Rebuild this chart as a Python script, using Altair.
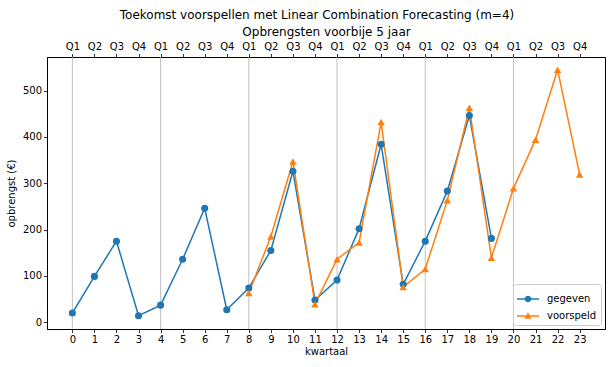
import altair as alt
import pandas as pd

# ---- data ----
kwartaal_gegeven = list(range(20))
gegeven = [20, 99, 175, 14, 37, 136, 246, 27, 74, 155, 326, 48, 91, 202, 384, 82, 175, 283, 446, 181]
kwartaal_voorspeld = list(range(8, 24))
voorspeld = [63, 185, 347, 39, 136, 172, 432, 76, 115, 263, 463, 139, 289, 394, 545, 319]
kwartaal_labels = ["Q1", "Q2", "Q3", "Q4"]
x_ticks = list(range(24))
grid_posities = [0, 4, 8, 12, 16, 20]
y_ticks = [0, 100, 200, 300, 400, 500]
reeksen = ["gegeven", "voorspeld"]
kleuren = ["#1f77b4", "#ff7f0e"]

df = pd.concat([
    pd.DataFrame({"kwartaal": kwartaal_gegeven, "opbrengst": gegeven, "reeks": "gegeven"}),
    pd.DataFrame({"kwartaal": kwartaal_voorspeld, "opbrengst": voorspeld, "reeks": "voorspeld"}),
], ignore_index=True)
grid_df = pd.DataFrame({"kwartaal": grid_posities})

FONT = "DejaVu Sans"
x_scale = alt.Scale(domain=[-1.15, 24.15], nice=False, zero=False)
y_scale = alt.Scale(domain=[-14.5, 572.4], nice=False, zero=False)

label_expr = "[" + ",".join(f"'{q}'" for q in kwartaal_labels) + "][datum.value % 4]"

top_axis = alt.Axis(orient="top", values=x_ticks, labelExpr=label_expr, grid=False,
                    title="Opbrengsten voorbije 5 jaar", titleFontSize=12, titleFontWeight="normal",
                    titlePadding=3, labelFlush=False)
bottom_axis = alt.Axis(orient="bottom", values=x_ticks, grid=False, title="kwartaal",
                       titleFontWeight="normal", titleFontSize=10, titlePadding=2, labelFlush=False)
y_axis = alt.Axis(values=y_ticks, grid=False, title="opbrengst (€)", titleFontWeight="normal",
                  titleFontSize=10, titlePadding=6)

y_enc = alt.Y("opbrengst:Q", scale=y_scale, axis=y_axis)

grid = alt.Chart(grid_df).mark_rule(color="#b0b0b0", strokeWidth=0.8).encode(
    x=alt.X("kwartaal:Q", scale=x_scale, axis=top_axis)
)

base = alt.Chart(df)
x_main = alt.X("kwartaal:Q", scale=x_scale, axis=bottom_axis)
x_enc = alt.X("kwartaal:Q", scale=x_scale, axis=None)

line_g = base.transform_filter(alt.datum.reeks == "gegeven").mark_line(
    color=kleuren[0], strokeWidth=1.5).encode(x=x_main, y=y_enc)
line_v = base.transform_filter(alt.datum.reeks == "voorspeld").mark_line(
    color=kleuren[1], strokeWidth=1.5).encode(x=x_enc, y=y_enc)
pts_g = base.transform_filter(alt.datum.reeks == "gegeven").mark_point(
    shape="circle", filled=True, opacity=1, size=50, color=kleuren[0]).encode(x=x_enc, y=y_enc)
pts_v = base.transform_filter(alt.datum.reeks == "voorspeld").mark_point(
    shape="triangle-up", filled=True, opacity=1, size=55, color=kleuren[1]).encode(x=x_enc, y=y_enc)

# legend symbols: a filled bar (line) plus marker, both wound clockwise so they union
circle_sym = ("M-1,-0.068H1V0.068H-1Z"
              "M-0.3,0A0.3,0.3,0,1,1,0.3,0A0.3,0.3,0,1,1,-0.3,0Z")
tri_sym = ("M-1,-0.068H1V0.068H-1Z"
           "M0,-0.33L0.32,0.26L-0.32,0.26Z")

legend_cfg = alt.Legend(
    title=None, orient="bottom-right", offset=4, padding=4, strokeColor="#cccccc",
    fillColor="white", cornerRadius=3, symbolOpacity=1, labelFontSize=10, labelFont=FONT,
    symbolStrokeWidth=0, symbolSize=484, rowPadding=1, labelOffset=8)

legend_layer = base.mark_point(filled=True, opacity=0, size=484, strokeWidth=0).encode(
    x=x_enc, y=y_enc,
    color=alt.Color("reeks:N", scale=alt.Scale(domain=reeksen, range=kleuren), legend=legend_cfg),
    shape=alt.Shape("reeks:N", scale=alt.Scale(domain=reeksen, range=[circle_sym, tri_sym]), legend=legend_cfg),
)

chart = alt.layer(grid, line_g, line_v, pts_g, pts_v, legend_layer).resolve_axis(x="independent").properties(
    width=558, height=272,
    title=alt.TitleParams("Toekomst voorspellen met Linear Combination Forecasting (m=4)",
                          fontSize=12, fontWeight="normal", font=FONT, color="black",
                          anchor="middle", dx=-9, offset=4),
    autosize=alt.AutoSizeParams(type="none"),
    padding={"left": 47, "top": 57, "right": 7, "bottom": 38},
).configure_view(stroke="black", strokeWidth=1).configure_axis(
    labelFont=FONT, titleFont=FONT, labelFontSize=10, labelColor="black", titleColor="black",
    tickColor="black", domainColor="black", tickSize=3.5, labelPadding=2, domainWidth=1, tickWidth=0.8,
).configure_legend(labelColor="black")

chart.save("out.html", embed_options={"renderer": "svg", "actions": False})
